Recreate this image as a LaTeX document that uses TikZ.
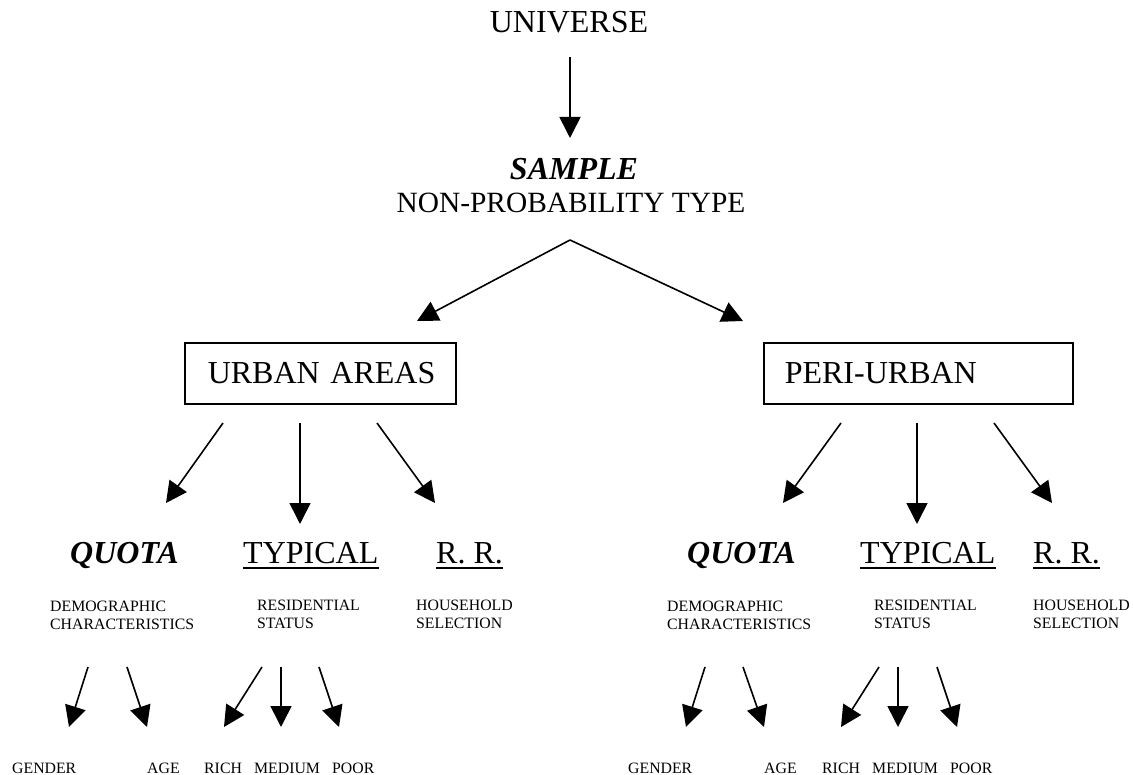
\documentclass[tikz,border=0pt]{standalone}
\usepackage{fontspec}
\setmainfont{Liberation Serif}
\usetikzlibrary{arrows.meta,calc}
\begin{document}
\begin{tikzpicture}[x=1pt,y=-1pt,
  big/.style={font=\fontsize{32}{38}\selectfont, inner sep=0pt},
  bigbi/.style={font=\fontsize{32}{38}\selectfont\bfseries\itshape, inner sep=0pt},
  mid/.style={font=\fontsize{29.4}{35}\selectfont, inner sep=0pt},
  sm/.style={font=\fontsize{15.8}{18}\selectfont, inner sep=0pt, align=left},
  arr/.style={line width=1.6pt, -{Triangle[length=21pt,width=21pt]}},
  box/.style={draw, line width=1.6pt, font=\fontsize{32}{38}\selectfont, inner sep=0pt, minimum height=61pt, text height=21pt, text depth=0pt, align=left, anchor=north west},
  ul/.style={line width=1.6pt}
]
\useasboundingbox (0,0) rectangle (1133,775);

% top
\node[big, anchor=base] (uni) at (569,33) {UNIVERSE};
\node[bigbi, anchor=base] (sam) at (574,180) {SAMPLE};
\node[mid, anchor=base] (npt) at (571,213) {NON-PROBABILITY TYPE};
\coordinate (t1) at (570,57);
\coordinate (t2) at (570,138);
\draw[arr] (t1) -- (t2);
\coordinate (apex) at (570,240);
\coordinate (tipL) at (417,321);
\coordinate (tipR) at (743,321);
\draw[arr] (apex) -- (tipL);
\draw[arr] (apex) -- (tipR);

% boxes
\node[box, text width=271pt] (urb) at (184,342) {\hspace*{23pt}\mbox{URBAN AREAS}};
\node[box, text width=309pt] (peri) at (763,342) {\hspace*{21pt}\mbox{PERI-URBAN}};

% arrows under boxes
\coordinate (uA) at (223,423); \coordinate (uAt) at (166,503);
\coordinate (uB) at (300,423); \coordinate (uBt) at (300,524);
\coordinate (uC) at (377,423); \coordinate (uCt) at (435,503);
\draw[arr] (uA) -- (uAt);
\draw[arr] (uB) -- (uBt);
\draw[arr] (uC) -- (uCt);
\coordinate (pA) at (841,423); \coordinate (pAt) at (783,503);
\coordinate (pB) at (917,423); \coordinate (pBt) at (917,524);
\coordinate (pC) at (994,423); \coordinate (pCt) at (1052,503);
\draw[arr] (pA) -- (pAt);
\draw[arr] (pB) -- (pBt);
\draw[arr] (pC) -- (pCt);

% second level labels
\node[bigbi, anchor=base west] (quoL) at (70,563) {QUOTA};
\node[big, anchor=base west] (typL) at (243,563) {TYPICAL};
\node[big, anchor=base west] (rrL) at (436,563) {R. R.};
\node[bigbi, anchor=base west] (quoR) at (687,563) {QUOTA};
\node[big, anchor=base west] (typR) at (860,563) {TYPICAL};
\node[big, anchor=base west] (rrR) at (1033,563) {R. R.};
\draw[ul] ($(typL.base west)+(0,5)$) -- ($(typL.base east)+(0,5)$);
\draw[ul] ($(rrL.base west)+(0,5)$) -- ($(rrL.base east)+(0,5)$);
\draw[ul] ($(typR.base west)+(0,5)$) -- ($(typR.base east)+(0,5)$);
\draw[ul] ($(rrR.base west)+(0,5)$) -- ($(rrR.base east)+(0,5)$);

% descriptions (base anchor = baseline of last line)
\node[sm, anchor=base west] (demL) at (50,629) {DEMOGRAPHIC\\CHARACTERISTICS};
\node[sm, anchor=base west] (resL) at (257,628) {RESIDENTIAL\\STATUS};
\node[sm, anchor=base west] (houL) at (416,628) {HOUSEHOLD\\SELECTION};
\node[sm, anchor=base west] (demR) at (667,629) {DEMOGRAPHIC\\CHARACTERISTICS};
\node[sm, anchor=base west] (resR) at (874,628) {RESIDENTIAL\\STATUS};
\node[sm, anchor=base west] (houR) at (1033,628) {HOUSEHOLD\\SELECTION};

% lower arrows left
\coordinate (a1) at (88,667);  \coordinate (a1t) at (69,727);
\coordinate (a2) at (127,667); \coordinate (a2t) at (147,727);
\coordinate (a3) at (262,667); \coordinate (a3t) at (224,727);
\coordinate (a4) at (281,667); \coordinate (a4t) at (281,727);
\coordinate (a5) at (319,667); \coordinate (a5t) at (339,727);
\foreach \i in {1,...,5} { \draw[arr] (a\i) -- (a\i t); }
% lower arrows right
\coordinate (b1) at (705,667); \coordinate (b1t) at (686,727);
\coordinate (b2) at (743,667); \coordinate (b2t) at (764,727);
\coordinate (b3) at (879,667); \coordinate (b3t) at (841,727);
\coordinate (b4) at (898,667); \coordinate (b4t) at (898,727);
\coordinate (b5) at (937,667); \coordinate (b5t) at (957,727);
\foreach \i in {1,...,5} { \draw[arr] (b\i) -- (b\i t); }

% bottom labels
\node[sm, anchor=base west] (genL) at (12,773) {GENDER};
\node[sm, anchor=base west] (ageL) at (147,773) {AGE};
\node[sm, anchor=base west] (ricL) at (204,773) {RICH};
\node[sm, anchor=base west] (medL) at (254,773) {MEDIUM};
\node[sm, anchor=base west] (pooL) at (332,773) {POOR};
\node[sm, anchor=base west] (genR) at (628,773) {GENDER};
\node[sm, anchor=base west] (ageR) at (764,773) {AGE};
\node[sm, anchor=base west] (ricR) at (822,773) {RICH};
\node[sm, anchor=base west] (medR) at (872,773) {MEDIUM};
\node[sm, anchor=base west] (pooR) at (950,773) {POOR};
\end{tikzpicture}
\end{document}
